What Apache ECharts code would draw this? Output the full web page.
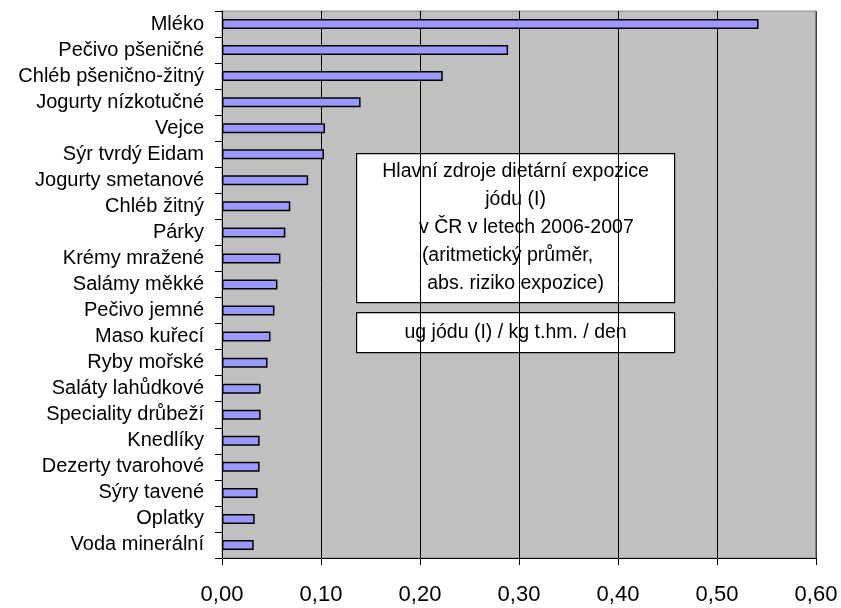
<!DOCTYPE html>
<html>
<head>
<meta charset="utf-8">
<script src="https://cdn.jsdelivr.net/npm/echarts@6/dist/echarts.min.js"></script>
<style>
  html, body { margin: 0; padding: 0; background: #ffffff; }
  #chart { width: 841px; height: 608px; }
</style>
</head>
<body>
<div id="chart"></div>
<script>
// Food categories, top to bottom
const categories = [
  'Mléko', 'Pečivo pšeničné', 'Chléb pšenično-žitný', 'Jogurty nízkotučné',
  'Vejce', 'Sýr tvrdý Eidam', 'Jogurty smetanové', 'Chléb žitný', 'Párky',
  'Krémy mražené', 'Salámy měkké', 'Pečivo jemné', 'Maso kuřecí',
  'Ryby mořské', 'Saláty lahůdkové', 'Speciality drůbeží', 'Knedlíky',
  'Dezerty tvarohové', 'Sýry tavené', 'Oplatky', 'Voda minerální'
];

// Mean iodine intake, ug / kg body weight / day
const intake = [
  0.542, 0.289, 0.223, 0.140, 0.104, 0.103, 0.087, 0.069, 0.064,
  0.059, 0.056, 0.053, 0.049, 0.046, 0.039, 0.039, 0.038,
  0.038, 0.036, 0.033, 0.032
];

// Value axis ticks
const xTicks = { min: 0, max: 0.6, interval: 0.1 };

// Annotation texts
const titleLines = [
  'Hlavní zdroje dietární expozice',
  'jódu (I)',
  '    v ČR v letech 2006-2007',
  '(aritmetický průměr,   ',
  'abs. riziko expozice)'
];
const unitText = 'ug jódu (I) / kg t.hm. / den';

const FONT = '"Liberation Sans", Arial, sans-serif';

const chart = echarts.init(document.getElementById('chart'), null, { renderer: 'canvas' });

chart.setOption({
  animation: false,
  backgroundColor: '#ffffff',
  grid: {
    left: 222, right: 25, top: 11, bottom: 50,
    show: true,
    backgroundColor: '#C0C0C0',
    borderColor: '#8c8c8c',
    borderWidth: 1,
    containLabel: false
  },
  xAxis: {
    type: 'value',
    min: xTicks.min,
    max: xTicks.max,
    interval: xTicks.interval,
    axisLine: { show: true, lineStyle: { color: '#000', width: 1 } },
    axisTick: { show: true, length: 7, inside: false, lineStyle: { color: '#000' } },
    splitLine: { show: true, lineStyle: { color: '#000', width: 1 } },
    axisLabel: {
      margin: 26,
      fontFamily: FONT,
      fontSize: 22,
      color: '#000',
      formatter: v => v.toFixed(2).replace('.', ',')
    }
  },
  yAxis: {
    type: 'category',
    data: categories,
    inverse: true,
    boundaryGap: true,
    axisLine: { show: true, onZero: false, lineStyle: { color: '#000', width: 1 } },
    axisTick: { show: true, length: 7, alignWithLabel: false, lineStyle: { color: '#000' } },
    splitLine: { show: false },
    axisLabel: {
      margin: 18,
      fontFamily: FONT,
      fontSize: 20,
      color: '#000'
    }
  },
  series: [{
    type: 'bar',
    data: intake,
    barWidth: 10,
    itemStyle: {
      color: '#9999FF',
      borderColor: '#000',
      borderWidth: 1.5
    },
    z: 3
  }],
  graphic: [
    {
      // right edge of the plot frame is drawn heavier
      type: 'rect',
      left: 815,
      top: 11,
      z: 5,
      shape: { width: 1.5, height: 547 },
      style: { fill: '#808080' }
    },
    {
      type: 'group',
      left: 356,
      top: 153,
      z: 10,
      children: [
        {
          type: 'rect',
          shape: { x: 0, y: 0, width: 318, height: 149 },
          style: { fill: '#fff', stroke: '#000', lineWidth: 1.2 }
        },
        {
          type: 'text',
          x: 159,
          y: 74.5,
          style: {
            text: titleLines.join('\n'),
            fontFamily: FONT,
            fontSize: 19.5,
            lineHeight: 28,
            fill: '#000',
            align: 'center',
            verticalAlign: 'middle'
          }
        }
      ]
    },
    {
      type: 'group',
      left: 356,
      top: 312,
      z: 10,
      children: [
        {
          type: 'rect',
          shape: { x: 0, y: 0, width: 318, height: 40 },
          style: { fill: '#fff', stroke: '#000', lineWidth: 1.2 }
        },
        {
          type: 'text',
          x: 159,
          y: 20,
          style: {
            text: unitText,
            fontFamily: FONT,
            fontSize: 19.5,
            fill: '#000',
            align: 'center',
            verticalAlign: 'middle'
          }
        }
      ]
    }
  ]
});
</script>
</body>
</html>
